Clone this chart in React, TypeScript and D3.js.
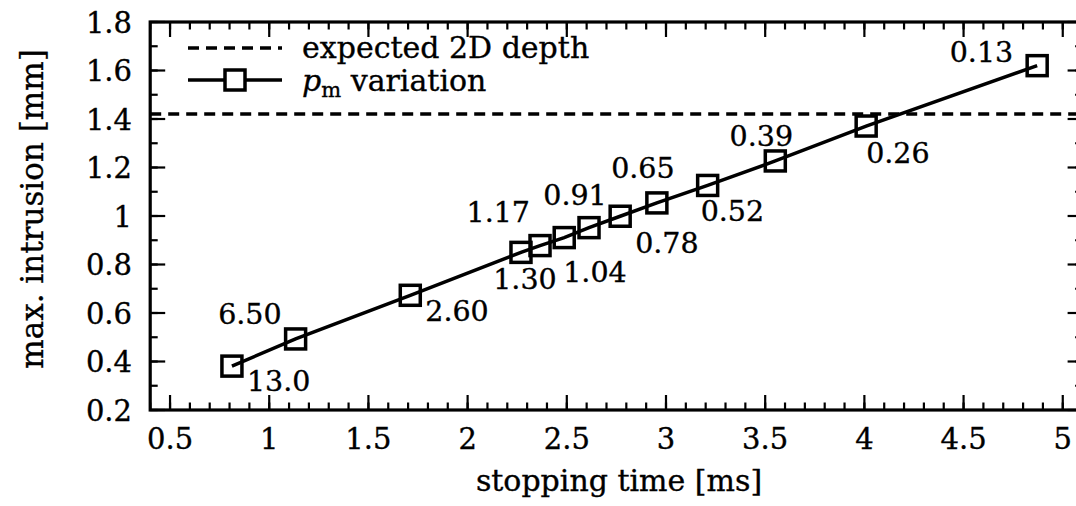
import React from "react";
import * as d3 from "d3";

// ---- data ----
const stoppingTime = [0.812, 1.133, 1.711, 2.269, 2.365, 2.487, 2.612, 2.769, 2.954, 3.21, 3.551, 4.009, 4.871];
const maxIntrusion = [0.381, 0.493, 0.673, 0.85, 0.878, 0.911, 0.952, 0.999, 1.054, 1.126, 1.227, 1.371, 1.62];
const pmLabels = ["13.0", "6.50", "2.60", "1.30", "1.17", "1.04", "0.91", "0.78", "0.65", "0.52", "0.39", "0.26", "0.13"];
const expectedDepth = 1.421;
const xTicks = [0.5, 1, 1.5, 2, 2.5, 3, 3.5, 4, 4.5, 5];
const xTickLabels = ["0.5", "1", "1.5", "2", "2.5", "3", "3.5", "4", "4.5", "5"];
const yTicks = [0.2, 0.4, 0.6, 0.8, 1, 1.2, 1.4, 1.6, 1.8];
const yTickLabels = ["0.2", "0.4", "0.6", "0.8", "1", "1.2", "1.4", "1.6", "1.8"];

// ---- layout (label placement relative to each point) ----
const labelPlacement: [number, number, string][] = [
  [15, 25, "start"],
  [-14, -15, "end"],
  [15, 26, "start"],
  [4, 37, "middle"],
  [-10, -24, "end"],
  [-1, 44, "start"],
  [-14, -23, "middle"],
  [15, 37, "start"],
  [-14, -25, "middle"],
  [-7, 36, "start"],
  [-14, -15, "middle"],
  [0, 37, "start"],
  [-24, -4, "end"],
];

const W = 1076;
const H = 506;
const FONT = "'DejaVu Serif', serif";

export default function App() {
  const x = d3.scaleLinear().domain([0.4, 5.1]).range([150.2, 1082.6]);
  const y = d3.scaleLinear().domain([0.2, 1.8]).range([410, 22]);
  const [x0, x1] = x.range();
  const [y0, y1] = y.range();

  const xMinor = d3.range(4, 52).map((v) => v / 10);
  const yMinor = d3.range(2, 19).map((v) => v / 10);
  const major = 15;
  const minor = 7.5;

  const pts = stoppingTime.map((t, i) => [t, maxIntrusion[i]] as [number, number]);
  const line = d3
    .line<[number, number]>()
    .x((d) => x(d[0]))
    .y((d) => y(d[1]));

  const sq = 20;
  const textStroke = { stroke: "#000", strokeWidth: 0.35 };

  return (
    <svg
      width={W}
      height={H}
      style={{ position: "absolute", left: 0, top: 0, background: "#fff" }}
      fontFamily={FONT}
    >
      <rect x={0} y={0} width={W} height={H} fill="#fff" />
      {/* minor ticks */}
      <g stroke="#000" strokeWidth={2.2}>
        {xMinor.map((v, i) => (
          <g key={"xm" + i}>
            <line x1={x(v)} x2={x(v)} y1={y0} y2={y0 - minor} />
            <line x1={x(v)} x2={x(v)} y1={y1} y2={y1 + minor} />
          </g>
        ))}
        {yMinor.map((v, i) => (
          <g key={"ym" + i}>
            <line x1={x0} x2={x0 + minor} y1={y(v)} y2={y(v)} />
            <line x1={x1} x2={x1 - minor} y1={y(v)} y2={y(v)} />
          </g>
        ))}
        {xTicks.map((v, i) => (
          <g key={"xM" + i}>
            <line x1={x(v)} x2={x(v)} y1={y0} y2={y0 - major} />
            <line x1={x(v)} x2={x(v)} y1={y1} y2={y1 + major} />
          </g>
        ))}
        {yTicks.map((v, i) => (
          <g key={"yM" + i}>
            <line x1={x0} x2={x0 + major} y1={y(v)} y2={y(v)} />
            <line x1={x1} x2={x1 - major} y1={y(v)} y2={y(v)} />
          </g>
        ))}
      </g>
      {/* frame */}
      <rect x={x0} y={y1} width={x1 - x0} height={y0 - y1} fill="none" stroke="#000" strokeWidth={3.2} />

      {/* tick labels */}
      <g fontSize={29} fill="#000" {...textStroke}>
        {xTicks.map((v, i) => (
          <text key={"xl" + i} x={x(v)} y={449} textAnchor="middle">
            {xTickLabels[i]}
          </text>
        ))}
        {yTicks.map((v, i) => (
          <text key={"yl" + i} x={132} y={y(v) + 10.5} textAnchor="end">
            {yTickLabels[i]}
          </text>
        ))}
      </g>

      {/* axis titles */}
      <g {...textStroke}>
        <text x={619} y={491} fontSize={30} textAnchor="middle">
          stopping time [ms]
        </text>
        <text transform={`translate(43, 209) rotate(-90)`} fontSize={31} textAnchor="middle">
          max. intrusion [mm]
        </text>
      </g>

      {/* expected depth */}
      <line
        x1={x0}
        x2={x1}
        y1={y(expectedDepth)}
        y2={y(expectedDepth)}
        stroke="#000"
        strokeWidth={3.5}
        strokeDasharray="11 7"
      />

      {/* data */}
      <path d={line(pts) || ""} fill="none" stroke="#000" strokeWidth={3.5} />
      {pts.map((p, i) => (
        <rect
          key={"p" + i}
          x={x(p[0]) - sq / 2}
          y={y(p[1]) - sq / 2}
          width={sq}
          height={sq}
          fill="none"
          stroke="#000"
          strokeWidth={3.5}
        />
      ))}
      <g fontSize={28.5} {...textStroke}>
        {pts.map((p, i) => (
          <text
            key={"l" + i}
            x={x(p[0]) + labelPlacement[i][0]}
            y={y(p[1]) + labelPlacement[i][1]}
            textAnchor={labelPlacement[i][2] as any}
          >
            {pmLabels[i]}
          </text>
        ))}
      </g>

      {/* legend */}
      <g>
        <line x1={188} x2={282} y1={48} y2={48} stroke="#000" strokeWidth={3.5} strokeDasharray="11 7" />
        <text x={302} y={58} fontSize={30} {...textStroke}>
          expected 2D depth
        </text>
        <line x1={188} x2={282} y1={80} y2={80} stroke="#000" strokeWidth={3.5} />
        <rect x={235 - sq / 2} y={80 - sq / 2} width={sq} height={sq} fill="#fff" stroke="#000" strokeWidth={3.5} />
        <text x={302} y={91} fontSize={30} {...textStroke}>
          <tspan fontStyle="italic">p</tspan>
          <tspan fontSize={21} dy={6}>m</tspan>
          <tspan dy={-6}> variation</tspan>
        </text>
      </g>
    </svg>
  );
}
